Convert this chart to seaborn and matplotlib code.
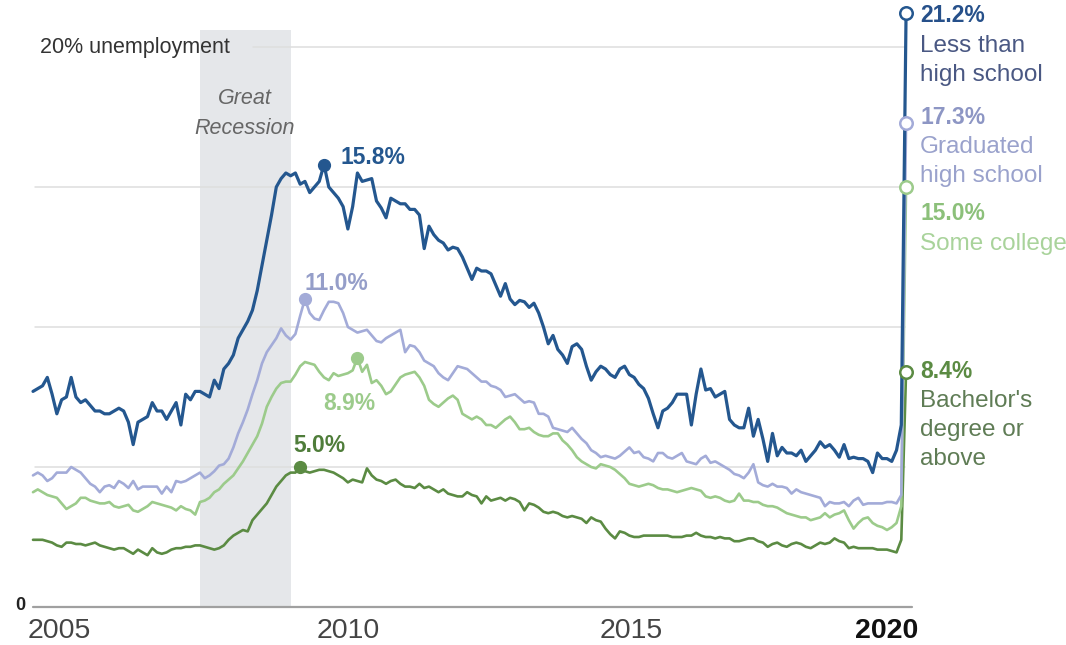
import numpy as np
import pandas as pd
import matplotlib
matplotlib.use("Agg")
import matplotlib.pyplot as plt
import seaborn as sns

# ---------------- data (monthly, Jan 2005 - Apr 2020) ----------------
start_year = 2005

less_than_hs = [
    # 2005
    7.7, 7.8, 7.9, 8.2, 7.6, 6.9, 7.4, 7.5, 8.2, 7.5, 7.3, 7.4,
    # 2006
    7.2, 7.0, 7.0, 6.9, 6.9, 7.0, 7.1, 7.0, 6.6, 5.8, 6.6, 6.7,
    # 2007
    6.8, 7.3, 7.0, 7.0, 6.7, 7.0, 7.3, 6.5, 7.6, 7.4, 7.7, 7.7,
    # 2008
    7.6, 7.5, 8.1, 7.8, 8.5, 8.7, 9.0, 9.6, 9.9, 10.2, 10.6, 11.3,
    # 2009
    12.2, 13.1, 14.0, 15.0, 15.3, 15.5, 15.4, 15.5, 15.1, 15.2, 14.8, 15.0,
    # 2010
    15.2, 15.8, 15.0, 14.8, 14.6, 14.3, 13.5, 14.3, 15.5, 15.2, 15.25, 15.3,
    # 2011
    14.5, 14.25, 13.9, 14.6, 14.5, 14.4, 14.4, 14.2, 14.2, 14.0, 12.8, 13.6,
    # 2012
    13.3, 13.1, 13.0, 12.75, 12.85, 12.8, 12.5, 12.1, 11.7, 12.1, 12.0, 12.0,
    # 2013
    11.9, 11.5, 11.1, 11.55, 11.0, 10.8, 10.95, 10.9, 10.7, 10.85, 10.5, 10.0,
    # 2014
    9.4, 9.7, 9.2, 9.0, 8.7, 9.3, 9.4, 9.2, 8.6, 8.1, 8.4, 8.6,
    # 2015
    8.5, 8.3, 8.2, 8.5, 8.6, 8.3, 8.2, 7.95, 7.8, 7.45, 6.9, 6.4,
    # 2016
    7.0, 7.1, 7.3, 7.6, 7.6, 7.6, 6.5, 7.6, 8.5, 7.75, 7.8, 7.5,
    # 2017
    7.6, 7.7, 6.7, 6.5, 6.4, 6.4, 7.1, 6.1, 6.7, 6.0, 5.2, 6.2,
    # 2018
    5.4, 5.7, 5.5, 5.5, 5.4, 5.6, 5.2, 5.4, 5.6, 5.9, 5.7, 5.8,
    # 2019
    5.6, 5.35, 5.8, 5.3, 5.35, 5.3, 5.3, 5.2, 4.8, 5.5, 5.3, 5.3,
    # 2020
    5.2, 5.6, 6.5, 21.2,
]

graduated_hs = [
    # 2005
    4.7, 4.8, 4.7, 4.5, 4.6, 4.8, 4.8, 4.8, 5.0, 4.9, 4.8, 4.6,
    # 2006
    4.4, 4.3, 4.1, 4.3, 4.35, 4.25, 4.5, 4.4, 4.25, 4.5, 4.2, 4.3,
    # 2007
    4.3, 4.3, 4.3, 4.05, 4.3, 4.1, 4.5, 4.45, 4.5, 4.6, 4.7, 4.8,
    # 2008
    4.6, 4.7, 4.85, 5.05, 5.1, 5.3, 5.7, 6.2, 6.6, 7.05, 7.6, 8.1,
    # 2009
    8.7, 9.1, 9.35, 9.6, 9.95, 9.7, 9.55, 9.75, 10.4, 11.0, 10.5, 10.3,
    # 2010
    10.25, 10.6, 10.9, 10.9, 10.85, 10.5, 10.0, 9.9, 9.8, 9.85, 9.9, 9.7,
    # 2011
    9.5, 9.45, 9.6, 9.7, 9.8, 9.9, 9.1, 9.35, 9.3, 9.1, 8.8, 8.7,
    # 2012
    8.6, 8.35, 8.2, 8.1, 8.35, 8.6, 8.55, 8.5, 8.35, 8.2, 8.05, 8.05,
    # 2013
    7.9, 7.85, 7.75, 7.5, 7.55, 7.6, 7.45, 7.3, 7.35, 7.3, 6.9, 6.9,
    # 2014
    6.8, 6.4, 6.35, 6.3, 6.25, 6.4, 6.2, 6.0, 5.85, 5.6, 5.5, 5.35,
    # 2015
    5.4, 5.35, 5.3, 5.4, 5.55, 5.7, 5.5, 5.55, 5.35, 5.3, 5.2, 5.5,
    # 2016
    5.5, 5.35, 5.3, 5.4, 5.5, 5.2, 5.15, 5.1, 5.3, 5.4, 5.15, 5.2,
    # 2017
    5.1, 5.0, 4.9, 4.75, 4.7, 4.6, 4.8, 5.1, 4.45, 4.35, 4.3, 4.4,
    # 2018
    4.3, 4.3, 4.25, 4.05, 4.2, 4.1, 4.05, 4.0, 3.95, 3.9, 3.6, 3.75,
    # 2019
    3.7, 3.7, 3.75, 3.6, 3.8, 3.9, 3.65, 3.7, 3.7, 3.7, 3.7, 3.75,
    # 2020
    3.75, 3.7, 4.0, 17.3,
]

some_college = [
    # 2005
    4.1, 4.2, 4.1, 4.0, 3.95, 3.9, 3.7, 3.5, 3.6, 3.7, 3.9, 3.9,
    # 2006
    3.8, 3.75, 3.7, 3.7, 3.75, 3.6, 3.55, 3.6, 3.65, 3.45, 3.4, 3.5,
    # 2007
    3.6, 3.75, 3.7, 3.65, 3.6, 3.55, 3.45, 3.6, 3.5, 3.45, 3.3, 3.75,
    # 2008
    3.8, 3.9, 4.1, 4.2, 4.4, 4.55, 4.7, 4.95, 5.2, 5.5, 5.8, 6.1,
    # 2009
    6.55, 7.15, 7.5, 7.8, 8.0, 8.05, 8.05, 8.3, 8.6, 8.75, 8.7, 8.65,
    # 2010
    8.4, 8.2, 8.1, 8.35, 8.25, 8.3, 8.35, 8.45, 8.9, 8.4, 8.65, 8.0,
    # 2011
    8.1, 7.9, 7.6, 7.7, 7.95, 8.2, 8.3, 8.35, 8.4, 8.2, 7.9, 7.4,
    # 2012
    7.25, 7.15, 7.3, 7.45, 7.55, 7.4, 6.9, 6.8, 6.7, 6.8, 6.7, 6.5,
    # 2013
    6.5, 6.4, 6.55, 6.7, 6.8, 6.6, 6.35, 6.35, 6.4, 6.25, 6.15, 6.1,
    # 2014
    6.1, 6.2, 6.2, 5.95, 5.8, 5.6, 5.35, 5.2, 5.1, 5.0, 4.95, 5.1,
    # 2015
    5.05, 5.0, 4.9, 4.75, 4.6, 4.4, 4.35, 4.3, 4.35, 4.4, 4.35, 4.25,
    # 2016
    4.2, 4.2, 4.15, 4.1, 4.15, 4.2, 4.25, 4.2, 4.15, 3.95, 3.9, 3.95,
    # 2017
    3.9, 3.8, 3.75, 3.8, 4.05, 3.8, 3.8, 3.75, 3.75, 3.65, 3.6, 3.6,
    # 2018
    3.55, 3.45, 3.35, 3.3, 3.25, 3.2, 3.2, 3.1, 3.15, 3.2, 3.35, 3.2,
    # 2019
    3.3, 3.35, 3.45, 3.1, 2.8, 3.0, 3.15, 3.2, 3.0, 2.9, 2.85, 2.75,
    # 2020
    2.85, 3.0, 3.6, 15.0,
]

bachelors = [
    # 2005
    2.4, 2.4, 2.4, 2.35, 2.3, 2.2, 2.15, 2.3, 2.3, 2.25, 2.25, 2.2,
    # 2006
    2.25, 2.3, 2.2, 2.15, 2.1, 2.05, 2.1, 2.1, 2.0, 1.9, 2.05, 1.95,
    # 2007
    1.85, 2.1, 1.95, 1.9, 1.95, 2.05, 2.1, 2.1, 2.15, 2.15, 2.2, 2.2,
    # 2008
    2.15, 2.1, 2.05, 2.1, 2.2, 2.4, 2.55, 2.65, 2.75, 2.7, 3.1, 3.3,
    # 2009
    3.5, 3.7, 4.0, 4.3, 4.5, 4.7, 4.8, 4.8, 5.0, 4.85, 4.8, 4.85,
    # 2010
    4.9, 4.9, 4.85, 4.8, 4.7, 4.6, 4.45, 4.55, 4.5, 4.45, 4.95, 4.7,
    # 2011
    4.55, 4.5, 4.4, 4.5, 4.55, 4.4, 4.3, 4.3, 4.25, 4.4, 4.25, 4.3,
    # 2012
    4.2, 4.1, 4.2, 4.05, 4.0, 3.95, 3.95, 4.1, 4.0, 3.95, 3.7, 3.95,
    # 2013
    3.8, 3.85, 3.9, 3.8, 3.9, 3.85, 3.75, 3.45, 3.7, 3.65, 3.55, 3.4,
    # 2014
    3.35, 3.4, 3.35, 3.25, 3.2, 3.25, 3.2, 3.15, 3.0, 3.2, 3.1, 3.05,
    # 2015
    2.8, 2.6, 2.45, 2.7, 2.65, 2.55, 2.5, 2.5, 2.55, 2.55, 2.55, 2.55,
    # 2016
    2.55, 2.55, 2.5, 2.5, 2.5, 2.55, 2.55, 2.65, 2.55, 2.5, 2.5, 2.45,
    # 2017
    2.5, 2.45, 2.45, 2.35, 2.35, 2.4, 2.45, 2.45, 2.35, 2.3, 2.15, 2.25,
    # 2018
    2.3, 2.2, 2.15, 2.25, 2.3, 2.25, 2.15, 2.1, 2.2, 2.3, 2.25, 2.3,
    # 2019
    2.45, 2.35, 2.3, 2.1, 2.15, 2.1, 2.1, 2.1, 2.1, 2.05, 2.05, 2.05,
    # 2020
    2.0, 1.95, 2.4, 8.4,
]

groups = ["Bachelor's degree or above", "Some college",
          "Graduated high school", "Less than high school"]
series = [bachelors, some_college, graduated_hs, less_than_hs]

# peak annotations: (group, month index, value label)
peak_idx = {"Less than high school": 61, "Graduated high school": 57,
            "Some college": 68, "Bachelor's degree or above": 56}

x_ticks = [2005, 2010, 2015, 2020]
x_tick_labels = ["2005", "2010", "2015", "2020"]

# ---------------- styling ----------------
colors = {"Less than high school": "#24578f",
          "Graduated high school": "#a3abd8",
          "Some college": "#9ccb8b",
          "Bachelor's degree or above": "#5b8b43"}
widths = {"Less than high school": 2.3,
          "Graduated high school": 1.9,
          "Some college": 1.9,
          "Bachelor's degree or above": 1.9}

rows = []
for g, vals in zip(groups, series):
    for i, v in enumerate(vals):
        rows.append({"date": start_year + i / 12.0, "rate": v, "group": g})
df = pd.DataFrame(rows)

sns.set_theme(style="white")
plt.rcParams["font.family"] = ["Liberation Sans", "DejaVu Sans"]

W, H = 1066, 645
fig = plt.figure(figsize=(W / 100, H / 100), dpi=100)

# pixel mapping helpers (layout only)
PX0, PX_PER_YEAR = 33.0, 57.25
PY0, PY_PER_PCT = 607.0, 28.0


def px2x(px):
    return start_year + (px - PX0) / PX_PER_YEAR


def py2y(py):
    return (PY0 - py) / PY_PER_PCT


ax_left_px, ax_right_px = 30, 912
ax = fig.add_axes([ax_left_px / W, (H - PY0) / H,
                   (ax_right_px - ax_left_px) / W, PY0 / H])
ax.set_xlim(px2x(ax_left_px), px2x(ax_right_px))
ax.set_ylim(0, py2y(0))
ax.axis("off")

# recession shading
ax.fill_between([2007 + 11 / 12, 2009.5], 0, py2y(30), color="#e5e7ea",
                lw=0, zorder=0)

# gridlines
for gv in [5, 10, 15]:
    ax.plot([px2x(35), px2x(905)], [gv, gv], color="#dedede", lw=1.1, zorder=1)
ax.plot([px2x(253), px2x(905)], [20, 20], color="#dedede", lw=1.1, zorder=1)
# baseline
ax.plot([px2x(33), px2x(912)], [0, 0], color="#a0a0a0", lw=1.6, zorder=1,
        clip_on=False)

sns.lineplot(data=df, x="date", y="rate", hue="group", hue_order=groups,
             palette=colors, size="group", sizes=widths, size_order=groups,
             legend=False, ax=ax, zorder=3, clip_on=False)

# markers
for g, vals in zip(groups, series):
    pi = peak_idx[g]
    ax.plot(start_year + pi / 12.0, vals[pi], "o", ms=8.5, color=colors[g],
            zorder=5, clip_on=False)
    ax.plot(start_year + (len(vals) - 1) / 12.0, vals[-1], "o", ms=9,
            mfc="white", mec=colors[g], mew=1.8, zorder=6, clip_on=False)

# peak labels
val_fs = 16.5
ax.text(px2x(340), py2y(158), f"{less_than_hs[61]:.1f}%", color="#24578f",
        fontsize=val_fs, fontweight="bold", va="center", ha="left")
ax.text(px2x(305), py2y(284), f"{graduated_hs[57]:.1f}%", color="#959ec9",
        fontsize=val_fs, fontweight="bold", va="center", ha="left")
ax.text(px2x(323), py2y(404), f"{some_college[68]:.1f}%", color="#9ccb8b",
        fontsize=val_fs, fontweight="bold", va="center", ha="left")
ax.text(px2x(293), py2y(446), f"{bachelors[56]:.1f}%", color="#4f7d3a",
        fontsize=val_fs, fontweight="bold", va="center", ha="left")

# end labels
lab_fs = 17.5
rx = px2x(920)
ax.text(rx, py2y(16), f"{less_than_hs[-1]:.1f}%", color="#26508a",
        fontsize=val_fs, fontweight="bold", va="center", ha="left")
ax.text(rx, py2y(46), "Less than", color="#4a5883", fontsize=lab_fs, va="center")
ax.text(rx, py2y(75), "high school", color="#4a5883", fontsize=lab_fs, va="center")

ax.text(rx, py2y(118), f"{graduated_hs[-1]:.1f}%", color="#8d96c4",
        fontsize=val_fs, fontweight="bold", va="center", ha="left")
ax.text(rx, py2y(147), "Graduated", color="#9aa2cc", fontsize=lab_fs, va="center")
ax.text(rx, py2y(176), "high school", color="#9aa2cc", fontsize=lab_fs, va="center")

ax.text(rx, py2y(214), f"{some_college[-1]:.1f}%", color="#8cc07a",
        fontsize=val_fs, fontweight="bold", va="center", ha="left")
ax.text(rx, py2y(244), "Some college", color="#a9d39b", fontsize=lab_fs, va="center")

ax.text(rx, py2y(372), f"{bachelors[-1]:.1f}%", color="#5b8b43",
        fontsize=val_fs, fontweight="bold", va="center", ha="left")
ax.text(rx, py2y(401), "Bachelor's", color="#5f7c55", fontsize=lab_fs, va="center")
ax.text(rx, py2y(430), "degree or", color="#5f7c55", fontsize=lab_fs, va="center")
ax.text(rx, py2y(459), "above", color="#5f7c55", fontsize=lab_fs, va="center")

# recession label
ax.text(px2x(245), py2y(98), "Great", color="#666666", fontsize=15.5,
        style="italic", ha="center", va="center")
ax.text(px2x(245), py2y(128), "Recession", color="#666666", fontsize=15.5,
        style="italic", ha="center", va="center")

# y labels
ax.text(px2x(40), py2y(47), "20% unemployment", color="#333333", fontsize=15.5,
        ha="left", va="center")
ax.text(px2x(25), py2y(606), "0", color="#222222", fontsize=13,
        fontweight="bold", ha="right", va="center")

# x tick labels
tick_left_px = {2005: 28, 2010: 317, 2015: 600}
for t, lab in zip(x_ticks, x_tick_labels):
    if t == 2020:
        ax.text(px2x(918), py2y(631), lab, color="#111111", fontsize=20.5,
                fontweight="bold", ha="right", va="center")
    else:
        ax.text(px2x(tick_left_px[t]), py2y(631), lab, color="#444444",
                fontsize=20.5, ha="left", va="center")

fig.savefig("out.png", dpi=100, facecolor="white")
